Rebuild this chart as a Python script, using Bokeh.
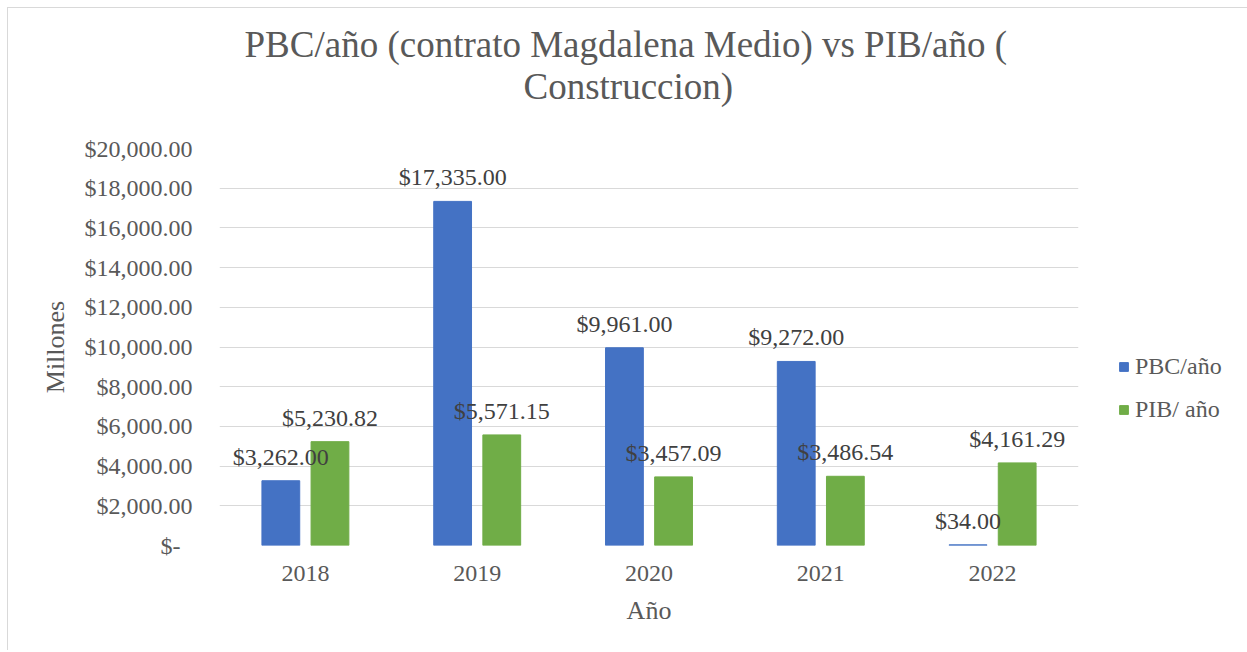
from bokeh.plotting import figure
from bokeh.models import (ColumnDataSource, FactorRange, Range1d, FixedTicker,
                          LabelSet, Legend, LegendItem, Title)
from bokeh.transform import dodge
from bokeh.embed import file_html
from bokeh.resources import INLINE

years = ["2018", "2019", "2020", "2021", "2022"]
pbc = [3262.00, 17335.00, 9961.00, 9272.00, 34.00]
pib = [5230.82, 5571.15, 3457.09, 3486.54, 4161.29]
y_ticks = [0, 2000, 4000, 6000, 8000, 10000, 12000, 14000, 16000, 18000, 20000]
y_tick_labels = ["$-\u00a0\u00a0", "$2,000.00", "$4,000.00", "$6,000.00", "$8,000.00",
                 "$10,000.00", "$12,000.00", "$14,000.00", "$16,000.00",
                 "$18,000.00", "$20,000.00"]
series_names = ["PBC/año", "PIB/ año"]
title_lines = ["PBC/año (contrato Magdalena Medio) vs PIB/año (", "Construccion)"]

FONT = "Liberation Serif"
GREY = "#595959"
DARK = "#404040"
BLUE = "#4472C4"
GREEN = "#70AD47"

src = ColumnDataSource(dict(
    year=years, pbc=pbc, pib=pib,
    pbc_lbl=["${:,.2f}".format(v) for v in pbc],
    pib_lbl=["${:,.2f}".format(v) for v in pib],
))

p = figure(x_range=FactorRange(*years, range_padding=0), y_range=Range1d(0, 20000),
           frame_width=859, frame_height=397, output_backend="svg", toolbar_location=None,
           min_border_left=211, min_border_right=161, min_border_top=140,
           min_border_bottom=105, title=None)
p.styles = {"margin-left": "7px", "margin-top": "7px",
            "border-left": "1px solid #d9d9d9", "border-top": "1px solid #d9d9d9"}

t2 = Title(text=title_lines[1], align="left", offset=304, text_font=FONT,
           text_font_size="37px", text_font_style="normal", text_color=GREY, standoff=84)
t1 = Title(text=title_lines[0], align="left", offset=25, text_font=FONT,
           text_font_size="37px", text_font_style="normal", text_color=GREY, standoff=-86)
p.add_layout(t2, "above")
p.add_layout(t1, "above")

off = 0.143
w = 0.22
r1 = p.vbar(x=dodge("year", -off, range=p.x_range), top="pbc", width=w, source=src,
            fill_color=BLUE, line_color=BLUE)
r2 = p.vbar(x=dodge("year", off, range=p.x_range), top="pib", width=w, source=src,
            fill_color=GREEN, line_color=GREEN)

for col, lbl, o in (("pbc", "pbc_lbl", -off), ("pib", "pib_lbl", off)):
    ls = LabelSet(x=dodge("year", o, range=p.x_range), y=col, text=lbl, source=src,
                  text_align="center", text_baseline="alphabetic", y_offset=16,
                  text_font=FONT, text_font_size="24px", text_color=DARK)
    p.add_layout(ls)

p.yaxis.ticker = FixedTicker(ticks=y_ticks)
p.yaxis.major_label_overrides = {t: s for t, s in zip(y_ticks, y_tick_labels)}
for ax in (p.xaxis, p.yaxis):
    ax.axis_line_color = None
    ax.major_tick_line_color = None
    ax.minor_tick_line_color = None
    ax.major_label_text_font = FONT
    ax.major_label_text_font_size = "24px"
    ax.major_label_text_color = GREY
    ax.axis_label_text_font = FONT
    ax.axis_label_text_font_size = "26px"
    ax.axis_label_text_font_style = "normal"
    ax.axis_label_text_color = GREY
p.yaxis.major_label_standoff = 21
p.xaxis.major_label_standoff = 14
p.yaxis.axis_label = "Millones"
p.xaxis.axis_label = "Año"
p.yaxis.axis_label_standoff = 12
p.xaxis.axis_label_standoff = 12

p.xgrid.grid_line_color = None
p.ygrid.grid_line_color = "#d9d9d9"
p.ygrid.grid_line_width = 1
p.outline_line_color = None

legend = Legend(items=[LegendItem(label=series_names[0], renderers=[r1]),
                       LegendItem(label=series_names[1], renderers=[r2])],
                location=(40, 122), orientation="vertical")
legend.margin = 0
legend.padding = 0
legend.border_line_color = None
legend.background_fill_alpha = 0
legend.glyph_width = 11
legend.glyph_height = 11
legend.label_standoff = 6
legend.label_text_font = FONT
legend.label_text_font_size = "24px"
legend.label_text_color = GREY
legend.label_height = 24
legend.spacing = 16
p.add_layout(legend, "right")

open("out.html", "w").write(file_html(p, INLINE))
